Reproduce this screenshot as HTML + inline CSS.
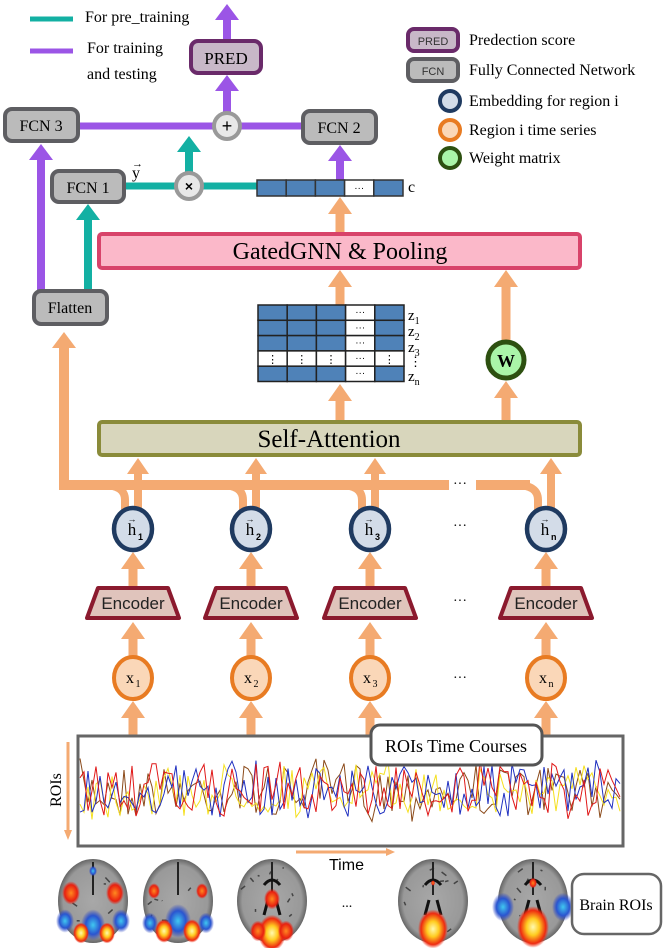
<!DOCTYPE html>
<html><head><meta charset="utf-8"><style>
body{margin:0;background:#fff}
svg{display:block}
.s{font-family:"Liberation Serif",serif}
.a{font-family:"Liberation Sans",sans-serif}
</style></head><body>
<svg id="g" width="664" height="948" viewBox="0 0 664 948" xmlns="http://www.w3.org/2000/svg">
<defs>
<radialGradient id="hot"><stop offset="0" stop-color="#fff9b0"/><stop offset=".4" stop-color="#ffcc20"/><stop offset=".8" stop-color="#ee2a10"/><stop offset="1" stop-color="#ee2a10" stop-opacity="0"/></radialGradient>
<radialGradient id="red"><stop offset="0" stop-color="#ff8a20"/><stop offset=".7" stop-color="#e82010"/><stop offset="1" stop-color="#e82010" stop-opacity="0"/></radialGradient>
<radialGradient id="blu"><stop offset="0" stop-color="#40c8f0"/><stop offset=".6" stop-color="#2a55d0"/><stop offset="1" stop-color="#2a40c0" stop-opacity="0"/></radialGradient>
<radialGradient id="brain"><stop offset="0" stop-color="#a8a8a8"/><stop offset=".85" stop-color="#999"/><stop offset="1" stop-color="#666"/></radialGradient>
</defs>

<line x1="30" y1="19" x2="73" y2="19" stroke="#13b0a3" stroke-width="5"/>
<line x1="30" y1="51" x2="73" y2="51" stroke="#9b55e6" stroke-width="5"/>
<text x="85" y="22" class="s" font-size="16">For pre_training</text>
<text x="87" y="53" class="s" font-size="16">For training</text>
<text x="87" y="79" class="s" font-size="16">and testing</text>

<rect x="408" y="29" width="50" height="22" rx="6" fill="#c8b8c8" stroke="#6a2a6a" stroke-width="4"/>
<text x="433" y="45" class="a" font-size="11" text-anchor="middle" fill="#333">PRED</text>
<rect x="408" y="59" width="50" height="22" rx="6" fill="#bbb" stroke="#5e5e62" stroke-width="4"/>
<text x="433" y="75" class="a" font-size="11" text-anchor="middle" fill="#333">FCN</text>
<circle cx="450" cy="101" r="10" fill="#d3dce8" stroke="#1f3a60" stroke-width="4"/>
<circle cx="450" cy="130" r="10" fill="#fad7b8" stroke="#e87b22" stroke-width="4"/>
<circle cx="450" cy="158" r="10" fill="#aaf5a8" stroke="#2d5010" stroke-width="4"/>
<g class="s" font-size="16">
<text x="469" y="45">Predection score</text>
<text x="469" y="75">Fully Connected Network</text>
<text x="469" y="106">Embedding for region i</text>
<text x="469" y="135">Region i time series</text>
<text x="469" y="163">Weight matrix</text>
</g>

<g id="arrows"></g>

<line x1="78" y1="126" x2="302" y2="126" stroke="#9b55e6" stroke-width="7"/>
<line x1="124" y1="186" x2="258" y2="186" stroke="#13b0a3" stroke-width="7"/>

<rect x="191" y="41" width="70" height="32" rx="7" fill="#c8b8c8" stroke="#6a2a6a" stroke-width="4"/>
<text x="226" y="64" class="s" font-size="17" text-anchor="middle">PRED</text>
<rect x="5" y="109" width="73" height="32" rx="7" fill="#bbb" stroke="#5e5e62" stroke-width="4"/>
<text x="41" y="131" class="s" font-size="16" text-anchor="middle">FCN 3</text>
<rect x="303" y="111" width="73" height="32" rx="7" fill="#bbb" stroke="#5e5e62" stroke-width="4"/>
<text x="339" y="133" class="s" font-size="16" text-anchor="middle">FCN 2</text>
<rect x="52" y="171" width="72" height="31" rx="7" fill="#bbb" stroke="#5e5e62" stroke-width="4"/>
<text x="88" y="193" class="s" font-size="16" text-anchor="middle">FCN 1</text>
<rect x="34" y="291" width="73" height="33" rx="7" fill="#bbb" stroke="#5e5e62" stroke-width="4"/>
<text x="70" y="313" class="s" font-size="16" text-anchor="middle">Flatten</text>

<circle cx="227" cy="126" r="13" fill="#e8e8e8" stroke="#999" stroke-width="4"/>
<text x="227" y="132" class="a" font-size="18" text-anchor="middle">+</text>
<circle cx="189" cy="186" r="13" fill="#e8e8e8" stroke="#999" stroke-width="4"/>
<text x="189" y="191" class="a" font-size="14" font-weight="bold" text-anchor="middle">×</text>
<text x="132" y="178" class="s" font-size="16">y</text>
<text x="132" y="167" class="s" font-size="11">→</text>

<g id="cvec"></g>
<text x="408" y="192" class="s" font-size="16">c</text>

<rect x="99" y="234" width="481" height="34" rx="3" fill="#fbb8c9" stroke="#d8436a" stroke-width="4"/>
<text x="340" y="259" class="s" font-size="24" text-anchor="middle">GatedGNN &amp; Pooling</text>

<g id="mat"></g>
<g class="s" font-size="15">
<text x="408" y="320">z<tspan font-size="10" dy="4">1</tspan></text>
<text x="408" y="336">z<tspan font-size="10" dy="4">2</tspan></text>
<text x="408" y="352">z<tspan font-size="10" dy="4">3</tspan></text>
<text x="409" y="366" font-size="13">⋮</text>
<text x="408" y="381">z<tspan font-size="10" dy="4">n</tspan></text>
</g>
<circle cx="506" cy="360" r="18" fill="#aaf5a8" stroke="#2d5010" stroke-width="5"/>
<text x="506" y="367" class="s" font-size="18" font-weight="bold" text-anchor="middle">W</text>

<rect x="99" y="422" width="481" height="33" rx="3" fill="#d8d6bc" stroke="#8a8b3a" stroke-width="4"/>
<text x="329" y="447" class="s" font-size="25" text-anchor="middle">Self-Attention</text>

<g id="nodes"></g>
<text x="460" y="488" class="s" font-size="14" text-anchor="middle">···</text>
<text x="460" y="530" class="s" font-size="14" text-anchor="middle">···</text>
<text x="460" y="605" class="s" font-size="14" text-anchor="middle">···</text>
<text x="460" y="682" class="s" font-size="14" text-anchor="middle">···</text>

<rect x="78" y="736" width="545" height="110" fill="#fff" stroke="#666" stroke-width="3"/>
<g id="sig"></g>
<rect x="371" y="725" width="171" height="40" rx="9" fill="#fff" stroke="#555" stroke-width="3"/>
<text x="456" y="752" class="s" font-size="18" text-anchor="middle">ROIs Time Courses</text>
<text transform="translate(61,790) rotate(-90)" class="s" font-size="16" text-anchor="middle">ROIs</text>
<line x1="68" y1="742" x2="68" y2="830" stroke="#f4aa72" stroke-width="3"/>
<polygon points="64,830 72,830 68,840" fill="#f4aa72"/>
<line x1="296" y1="852" x2="386" y2="852" stroke="#f4aa72" stroke-width="3"/>
<polygon points="386,848 386,856 395,852" fill="#f4aa72"/>
<text x="329" y="870" class="a" font-size="16">Time</text>

<g id="brains"></g>
<text x="347" y="907" class="s" font-size="14" text-anchor="middle">...</text>
<rect x="572" y="874" width="89" height="60" rx="12" fill="#fff" stroke="#666" stroke-width="2.5"/>
<text x="616" y="910" class="s" font-size="16" text-anchor="middle">Brain ROIs</text>
</svg>
<script>
var NS="http://www.w3.org/2000/svg";
function el(p,t,a){var e=document.createElementNS(NS,t);for(var k in a)e.setAttribute(k,a[k]);document.getElementById(p).appendChild(e);return e;}
var O="#f4aa72",P="#9b55e6",T="#13b0a3";
function up(x,y1,y2,c,w,hw,hl){w=w||9;hw=hw||11;hl=hl||15;
 el("arrows","line",{x1:x,y1:y1,x2:x,y2:y2+hl-1,stroke:c,"stroke-width":w});
 el("arrows","polygon",{points:(x-hw)+","+(y2+hl)+" "+(x+hw)+","+(y2+hl)+" "+x+","+y2,fill:c});}
up(227,40,4,P,8,12,16); up(227,113,75,P,8,12,16);
up(189,173,136,T,8,12,16); up(340,180,145,P,8,12,16);
up(41,291,144,P,8,12,16); up(88,291,204,T,8,12,16);
up(340,233,197,O,9,12,17); up(340,305,270,O,9,12,17);
up(506,341,270,O,9,12,17); up(340,421,384,O,9,12,17); up(506,421,381,O,9,12,17);
el("arrows","path",{d:"M64,490 L64,346 ",stroke:O,"stroke-width":10,fill:"none"});
el("arrows","polygon",{points:"52,348 76,348 64,332",fill:O});
el("arrows","path",{d:"M59,485 L449,485 M476,485 L530,485",stroke:O,"stroke-width":10,fill:"none"});
var hx=[133,251,370,546];
hx.forEach(function(x,i){
 el("arrows","path",{d:"M"+(x-30)+",485 Q"+(x-8)+",485 "+(x-8)+",500 L"+(x-8)+",510",stroke:O,"stroke-width":8,fill:"none"});
 up(x+5,508,458,O,8,11,16);
 up(x,586,552,O,9,12,17); up(x,657,622,O,9,12,17); up(x,736,701,O,9,12,17);
 el("nodes","ellipse",{cx:x,cy:529,rx:19,ry:21,fill:"#d3dce8",stroke:"#1f3a60","stroke-width":4.5});
 var t=el("nodes","text",{x:x-1,y:535,"class":"s","font-size":17,"text-anchor":"middle"});t.textContent="h";
 var s=el("nodes","text",{x:x+5,y:540,"class":"a","font-size":9,"font-weight":"bold"});s.textContent=["1","2","3","n"][i];
 var ar=el("nodes","text",{x:x-1,y:522,"class":"a","font-size":9,"text-anchor":"middle"});ar.textContent="→";
 el("nodes","path",{d:"M"+(x-35)+",588 L"+(x+35)+",588 L"+(x+46)+",618 L"+(x-46)+",618 Z",fill:"#e0c4bc",stroke:"#8b1a2e","stroke-width":4,"stroke-linejoin":"round"});
 var e=el("nodes","text",{x:x,y:609,"class":"a","font-size":17,"text-anchor":"middle",fill:"#222"});e.textContent="Encoder";
 el("nodes","ellipse",{cx:x,cy:678,rx:19,ry:21,fill:"#fad7b8",stroke:"#e87b22","stroke-width":4});
 var xt=el("nodes","text",{x:x-3,y:683,"class":"s","font-size":16,"text-anchor":"middle"});xt.textContent="x";
 var xs=el("nodes","text",{x:x+5,y:687,"class":"s","font-size":10,"text-anchor":"middle"});xs.textContent=["1","2","3","n"][i];
});
var cw=29.2;
for(var i=0;i<5;i++){el("cvec","rect",{x:257+i*cw,y:180,width:cw,height:16,fill:i==3?"#fff":"#4f82b8",stroke:"#333","stroke-width":1.5});}
var d=el("cvec","text",{x:257+3.5*cw,y:191,"font-size":10,"text-anchor":"middle","class":"a"});d.textContent="···";
for(var r=0;r<5;r++)for(var i=0;i<5;i++){
 var w=(r==3||i==3);
 el("mat","rect",{x:258+i*cw,y:305+r*15.3,width:cw,height:15.3,fill:w?"#fff":"#4f82b8",stroke:"#222","stroke-width":1.5});
 if(w){var q=el("mat","text",{x:258+(i+.5)*cw,y:305+r*15.3+(i==3?10:12),"font-size":i==3?10:11,"text-anchor":"middle","class":"a"});q.textContent=i==3?"···":"⋮";}
}
var seed=7;function rnd(){seed=(seed*16807)%2147483647;return seed/2147483647;}
["#8b4a1a","#f5e020","#2030c0","#e01818"].forEach(function(c,k){
 var pts=[];for(var x=80;x<=621;x+=4){pts.push(x+","+(790+(rnd()-.5)*(40+rnd()*25)).toFixed(1));}
 el("sig","polyline",{points:pts.join(" "),fill:"none",stroke:c,"stroke-width":1});
});
var bx=[93,178,272,433,533];
var bl=[[[-22,-8,"red",9],[22,-8,"red",9],[0,24,"blu",12],[-28,20,"blu",9],[28,20,"blu",9],[-12,32,"hot",8],[14,32,"hot",8],[0,-30,"blu",4]],
[[-24,-10,"red",6],[24,-10,"red",6],[0,20,"blu",13],[-28,22,"blu",8],[28,22,"blu",8],[-14,30,"hot",9],[14,30,"hot",9]],
[[0,-2,"red",8],[0,32,"hot",14],[-14,30,"red",8],[14,30,"red",8]],
[[0,28,"hot",15],[0,-18,"red",2]],
[[0,26,"hot",16],[-30,6,"blu",11],[30,6,"blu",11],[0,-18,"red",4]]];
bx.forEach(function(x,i){
 el("brains","ellipse",{cx:x,cy:901,rx:35,ry:42,fill:"url(#brain)"});
 for(var k=0;k<10;k++){var a=rnd()*6.28,rr=15+rnd()*15;el("brains","path",{d:"M"+(x+Math.cos(a)*rr).toFixed(1)+","+(901+Math.sin(a)*rr*1.2).toFixed(1)+" l"+((rnd()-.5)*10).toFixed(1)+","+((rnd()-.5)*10).toFixed(1),stroke:"#444","stroke-width":1.5});}
 el("brains","path",{d:"M"+x+",862 L"+x+",895",stroke:"#222","stroke-width":2});
 if(i>=2)el("brains","path",{d:"M"+(x-8)+",885 Q"+x+",875 "+(x+8)+",885 M"+(x-4)+",900 L"+(x-8)+",915 M"+(x+4)+",900 L"+(x+8)+",915",stroke:"#111","stroke-width":3,fill:"none"});
 bl[i].forEach(function(b){el("brains","ellipse",{cx:x+b[0],cy:901+b[1],rx:b[3],ry:b[3]*1.3,fill:"url(#"+b[2]+")"});});
});
</script>
</body></html>
